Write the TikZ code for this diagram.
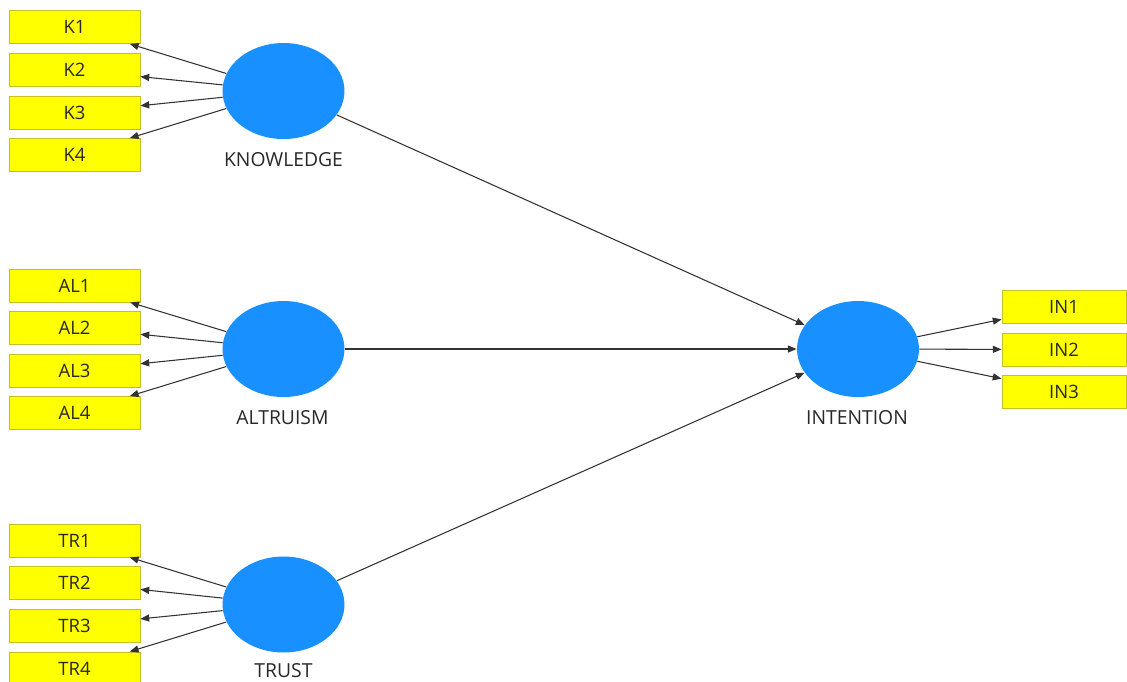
\documentclass[tikz,border=0pt]{standalone}
\usepackage{fontspec}
\setmainfont{Open Sans}
\usetikzlibrary{arrows.meta,shapes.geometric}
\definecolor{lvblue}{RGB}{24,144,255}
\definecolor{indyellow}{RGB}{255,255,0}
\definecolor{indborder}{RGB}{200,190,40}
\definecolor{txt}{RGB}{40,40,40}
\definecolor{lnc}{RGB}{50,50,50}
\begin{document}
\begin{tikzpicture}[x=0.02cm,y=-0.02cm,
  ind/.style={draw=indborder,line width=0.5pt,fill=indyellow,minimum width=2.62cm,minimum height=0.66cm,inner sep=0pt,font=\fontsize{10.5pt}{12pt}\selectfont,text=txt},
  indr/.style={ind,minimum width=2.48cm},
  lv/.style={ellipse,fill=lvblue,minimum width=2.44cm,minimum height=1.92cm,inner sep=0pt},
  lvlab/.style={font=\fontsize{11pt}{12pt}\selectfont,text=txt,inner sep=1pt},
  con/.style={draw=lnc,line width=0.6pt,-{Triangle[length=5pt,width=4pt]}}
]
\useasboundingbox (0,0) rectangle (1127,681);
\fill[white] (0,0) rectangle (1127,681);
% indicator boxes
\node[ind] (K1) at (74.5,27) {K1};
\node[ind] (K2) at (74.5,70) {K2};
\node[ind] (K3) at (74.5,112.5) {K3};
\node[ind] (K4) at (74.5,155) {K4};
\node[ind] (AL1) at (74.5,285.5) {AL1};
\node[ind] (AL2) at (74.5,327.5) {AL2};
\node[ind] (AL3) at (74.5,370.5) {AL3};
\node[ind] (AL4) at (74.5,413) {AL4};
\node[ind] (TR1) at (74.5,540.5) {TR1};
\node[ind] (TR2) at (74.5,582.5) {TR2};
\node[ind] (TR3) at (74.5,625.5) {TR3};
\node[ind] (TR4) at (74.5,668.5) {TR4};
\node[indr] (IN1) at (1064,306.5) {IN1};
\node[indr] (IN2) at (1064,349.5) {IN2};
\node[indr] (IN3) at (1064,391.5) {IN3};
% latent variables
\node[lv] (KN) at (283.5,91) {};
\node[lv] (AL) at (283.5,349) {};
\node[lv] (TR) at (283.5,604.5) {};
\node[lv] (IN) at (858,349) {};
\node[lvlab] (KNl) at (283.5,160) {KNOWLEDGE};
\node[lvlab] (ALl) at (282.5,418) {ALTRUISM};
\node[lvlab] (TRl) at (283.5,670.5) {TRUST};
\node[lvlab] (INl) at (857,418) {INTENTION};
% outer loadings
\foreach \i in {1,2,3,4}{
  \draw[con] (KN) -- (K\i);
  \draw[con] (AL) -- (AL\i);
  \draw[con] (TR) -- (TR\i);
}
\foreach \i in {1,2,3}{
  \draw[con] (IN) -- (IN\i);
}
% structural paths
\draw[con] (KN) -- (IN);
\draw[con] (AL) -- (IN);
\draw[con] (TR) -- (IN);
\end{tikzpicture}
\end{document}
